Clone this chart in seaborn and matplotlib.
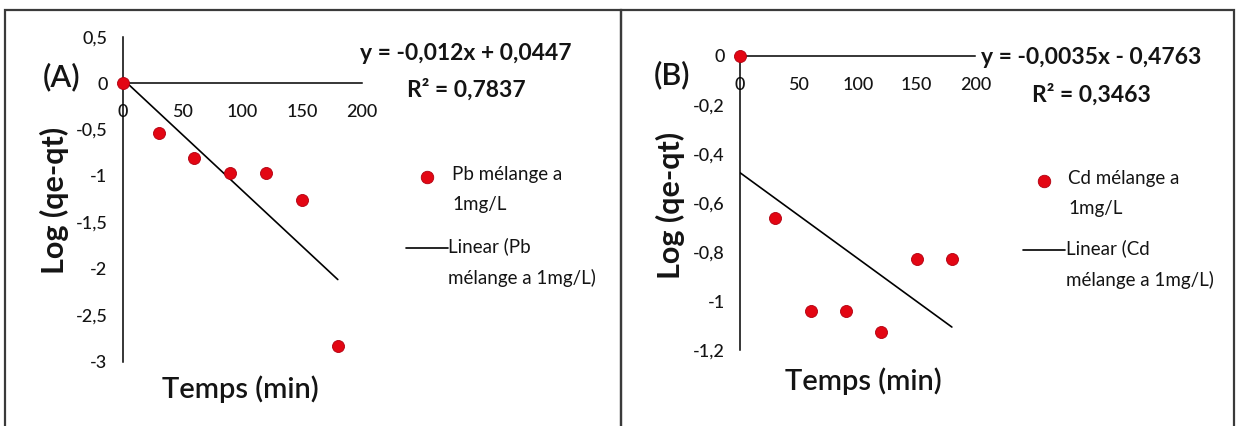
import matplotlib
matplotlib.use("Agg")
import numpy as np
import pandas as pd
import seaborn as sns
import matplotlib.pyplot as plt
from matplotlib.lines import Line2D
from matplotlib.patches import Rectangle
from matplotlib.ticker import FixedLocator, FuncFormatter

# Contact time (min)
temps = [0, 30, 60, 90, 120, 150, 180]
# Log(qe - qt) for the metal mixture at 1 mg/L
log_pb = [0.0, -0.54, -0.81, -0.97, -0.97, -1.26, -2.83]
log_cd = [0.0, -0.66, -1.04, -1.04, -1.125, -0.83, -0.83]

# Linear trend lines (pseudo-first-order fit)
pb_slope, pb_intercept, pb_r2 = -0.012, 0.0447, 0.7837
cd_slope, cd_intercept, cd_r2 = -0.0035, -0.4763, 0.3463

x_ticks = [0, 50, 100, 150, 200]
pb_yticks = [0.5, 0, -0.5, -1, -1.5, -2, -2.5, -3]
cd_yticks = [0, -0.2, -0.4, -0.6, -0.8, -1, -1.2]

pb_label = "Pb mélange a\n1mg/L"
cd_label = "Cd mélange a\n1mg/L"
pb_fit_label = "Linear (Pb\nmélange a 1mg/L)"
cd_fit_label = "Linear (Cd\nmélange a 1mg/L)"

sns.set_style("white")
plt.rcParams["font.family"] = ["Lato", "DejaVu Sans"]

W, H = 1240, 426
RED = "#e30613"
TXT = "#141414"
fig = plt.figure(figsize=(W / 100, H / 100), dpi=100)


def fx(x):
    return x / W


def fy(y):
    return 1 - y / H


def comma(v, _pos=None):
    s = f"{v:g}"
    if s == "-0":
        s = "0"
    return s.replace(".", ",")


def fmt_eq(slope, intercept):
    sign = "+" if intercept >= 0 else "-"
    return f"y = {comma(slope)}x {sign} {comma(abs(intercept))}"


def panel(box, ylim, yticks, values, slope, intercept, r2, tag, tag_xy,
          ylab_xy, xlab_xy, eq_xy, leg_xy, pt_label, fit_label):
    left, right, top, bottom = box
    ax = fig.add_axes([fx(left), fy(bottom), (right - left) / W, (bottom - top) / H])
    df = pd.DataFrame({"Temps": temps, "Log": values})
    fit_x = np.array([temps[0], temps[-1]], dtype=float)
    fit = pd.DataFrame({"Temps": fit_x, "Log": slope * fit_x + intercept})
    sns.lineplot(data=fit, x="Temps", y="Log", ax=ax, color="black",
                 linewidth=1.2, zorder=3)
    sns.scatterplot(data=df, x="Temps", y="Log", ax=ax, color=RED, s=75,
                    edgecolor="#b00010", linewidth=0.6, zorder=5,
                    clip_on=False, legend=False)
    ax.set_xlim(0, 200)
    ax.set_ylim(*ylim)
    ax.xaxis.set_major_locator(FixedLocator(x_ticks))
    ax.yaxis.set_major_locator(FixedLocator(yticks))
    ax.xaxis.set_major_formatter(FuncFormatter(comma))
    ax.yaxis.set_major_formatter(FuncFormatter(comma))
    for side in ("top", "right"):
        ax.spines[side].set_visible(False)
    ax.spines["left"].set_position(("data", 0))
    ax.spines["bottom"].set_position(("data", 0))
    for side in ("left", "bottom"):
        ax.spines[side].set_color("black")
        ax.spines[side].set_linewidth(1.1)
    ax.tick_params(axis="x", length=0, pad=15, labelsize=13, labelcolor=TXT)
    ax.tick_params(axis="y", length=0, pad=11, labelsize=13, labelcolor=TXT)
    for lab in ax.get_xticklabels() + ax.get_yticklabels():
        lab.set_fontweight("medium")
    ax.set_xlabel("")
    ax.set_ylabel("")
    ax.patch.set_alpha(0)

    fig.text(fx(tag_xy[0]), fy(tag_xy[1]), tag, fontsize=22,
             fontweight="semibold", color=TXT, ha="center", va="center")
    fig.text(fx(ylab_xy[0]), fy(ylab_xy[1]), "Log (qe-qt)", fontsize=22,
             fontweight="bold", color=TXT, rotation=90, ha="center",
             va="center")
    fig.text(fx(xlab_xy[0]), fy(xlab_xy[1]), "Temps (min)", fontsize=21,
             fontweight="semibold", color=TXT, ha="center", va="center")
    fig.text(fx(eq_xy[0]), fy(eq_xy[1]), fmt_eq(slope, intercept),
             fontsize=16.5, fontweight="bold", color=TXT, ha="center",
             va="center")
    fig.text(fx(eq_xy[0]), fy(eq_xy[2]), f"R² = {comma(r2)}",
             fontsize=16.5, fontweight="bold", color=TXT, ha="center",
             va="center")

    # Legend: marker entry and trend-line entry, first line aligned with handle
    mx, my, tx, ly = leg_xy
    fig.add_artist(Line2D([fx(mx)], [fy(my)], marker="o", markersize=9,
                          color=RED, markeredgecolor="#b00010",
                          markeredgewidth=0.6, linestyle="none",
                          transform=fig.transFigure))
    fig.text(fx(tx), fy(my - 11), pt_label, fontsize=13.5, color=TXT,
             ha="left", va="top", linespacing=1.9)
    fig.add_artist(Line2D([fx(mx - 21), fx(mx + 21)], [fy(ly), fy(ly)],
                          color="black", linewidth=1.2,
                          transform=fig.transFigure))
    fig.text(fx(mx + 22), fy(ly - 11), fit_label, fontsize=13.5, color=TXT,
             ha="left", va="top", linespacing=1.9)
    return ax


panel((122.7, 361.7, 36.7, 361.7), (-3, 0.5), pb_yticks, log_pb,
      pb_slope, pb_intercept, pb_r2, "(A)", (62, 77), (54, 200), (240, 389),
      (466, 53, 90), (426.5, 177, 452, 248), pb_label, pb_fit_label)
panel((740, 975.4, 56, 350), (-1.2, 0), cd_yticks, log_cd,
      cd_slope, cd_intercept, cd_r2, "(B)", (672, 75), (670, 205), (863, 381),
      (1091, 58, 95), (1044, 181, 1068, 250), cd_label, cd_fit_label)

# Panel frames
for x0, x1 in ((5, 621), (621, 1234)):
    fig.add_artist(Rectangle((fx(x0), fy(440)), (x1 - x0) / W, (440 - 10) / H,
                             transform=fig.transFigure, fill=False,
                             edgecolor="#3a3a3a", linewidth=1.6,
                             clip_on=False))

fig.savefig("out.png", dpi=100)
